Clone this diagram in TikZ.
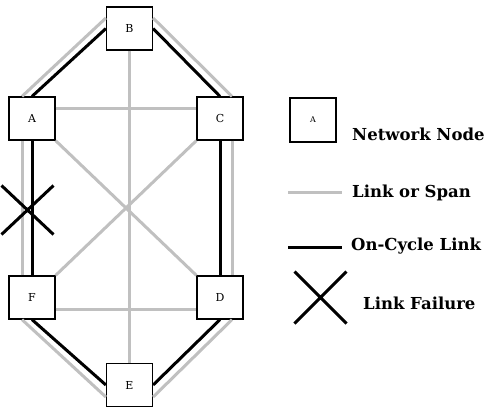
\documentclass[tikz,border=0pt]{standalone}
\usepackage{fontspec}
\setmainfont{DejaVu Serif}
\usepackage{xcolor}
\usepackage{tikz}
\usetikzlibrary{shapes.misc}
\definecolor{spangray}{RGB}{192,192,192}

\begin{document}
\begin{tikzpicture}[x=1pt,y=-1pt,
   netnode/.style={draw,line width=1.2pt,fill=white,minimum width=46pt,minimum height=43pt,inner sep=0pt,font=\fontsize{11}{13}\selectfont},
   span/.style={spangray,line width=3pt},
   cyclelink/.style={black,line width=3pt},
   failmark/.style={cross out,draw,line width=3pt,minimum width=49pt,minimum height=46pt,inner sep=0pt},
   legendtext/.style={anchor=base west,inner sep=0pt,font=\bfseries\fontsize{16.5}{19}\selectfont}]
   \useasboundingbox (0,0) rectangle (487,410);
   \node[netnode] (A) at (32,118.5) {A};
   \node[netnode] (B) at (129.5,28.5) {B};
   \node[netnode] (C) at (220,118.5) {C};
   \node[netnode] (D) at (220,297.5) {D};
   \node[netnode] (E) at (129.5,385) {E};
   \node[netnode] (F) at (32,297.5) {F};
   % spans
   \draw[span] ([yshift=10.5pt]A.east) -- ([yshift=10.5pt]C.west);
   \draw[span] ([yshift=-11.5pt]F.east) -- ([yshift=-11.5pt]D.west);
   \draw[span] (A.south east) -- (D.north west);
   \draw[span] (F.north east) -- (C.south west);
   \draw[span] (B.south) -- (E.north);
   \draw[span] ([xshift=-10pt]A.north) -- ([yshift=10.5pt]B.west);
   \draw[span] ([yshift=10.5pt]B.east) -- ([xshift=12pt]C.north);
   \draw[span] ([xshift=12pt]C.south) -- ([xshift=12pt]D.north);
   \draw[span] ([xshift=12pt]D.south) -- ([yshift=-12pt]E.east);
   \draw[span] ([yshift=-12pt]E.west) -- ([xshift=-10pt]F.south);
   \draw[span] ([xshift=-10pt]F.north) -- ([xshift=-10pt]A.south);
   % cycle
   \draw[cyclelink] (A.north) -- (B.west);
   \draw[cyclelink] (B.east) -- (C.north);
   \draw[cyclelink] (C.south) -- (D.north);
   \draw[cyclelink] (D.south) -- (E.east);
   \draw[cyclelink] (E.west) -- (F.south);
   \draw[cyclelink] (F.north) -- (A.south);
   \node[failmark] (fail) at (27.5,210) {};
   % legend
   \node[netnode,minimum height=44pt,font=\fontsize{8}{10}\selectfont] (keynode) at (313,120) {A};
   \node[legendtext] (keynodetext) at (352,140) {Network Node};
   \coordinate (spanL) at (288,192);
   \coordinate (spanR) at (342,192);
   \draw[span] (spanL) -- (spanR);
   \node[legendtext] (spantext) at (352,197) {Link or Span};
   \coordinate (cycleL) at (288,247);
   \coordinate (cycleR) at (342,247);
   \draw[cyclelink] (cycleL) -- (cycleR);
   \node[legendtext] (cycletext) at (351,250) {On-Cycle Link};
   \node[failmark,minimum height=49pt] (keyfail) at (320.5,297.5) {};
   \node[legendtext] (failtext) at (363,309) {Link Failure};
\end{tikzpicture}
\end{document}
